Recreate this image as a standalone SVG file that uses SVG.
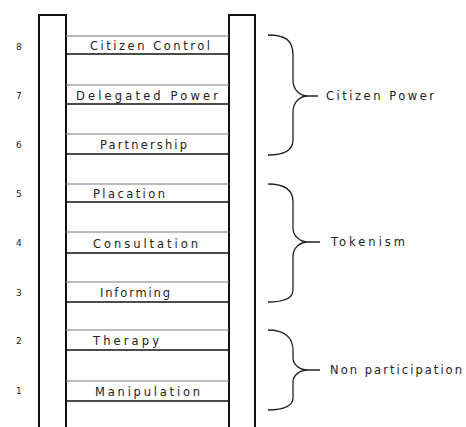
<svg xmlns="http://www.w3.org/2000/svg" width="466" height="427" viewBox="0 0 466 427">
<style>
.rail{fill:#fff;stroke:#111;stroke-width:2}
.rt{stroke:#777;stroke-width:1}
.rb{stroke:#111;stroke-width:1.6}
.lbl{font-family:"DejaVu Sans",sans-serif;font-size:11.5px;fill:#222}
.num{font-family:"DejaVu Sans",sans-serif;font-size:9px;fill:#222}
.br{fill:none;stroke:#222;stroke-width:1.3}
</style>
<rect width="466" height="427" fill="#fff"/>
<g id="rails">
<path class="rail" d="M39,430 L39,15 L66,15 L66,430"/>
<path class="rail" d="M229,430 L229,15 L255,15 L255,430"/>
</g>
<g id="rung8"><line class="rt" x1="66" y1="36" x2="229" y2="36"/><line class="rb" x1="66" y1="54" x2="229" y2="54"/><text class="num" x="16" y="50">8</text><text class="lbl" x="90" y="50" textLength="120" lengthAdjust="spacing">Citizen Control</text></g>
<g id="rung7"><line class="rt" x1="66" y1="85" x2="229" y2="85"/><line class="rb" x1="66" y1="104" x2="229" y2="104"/><text class="num" x="16" y="99">7</text><text class="lbl" x="76" y="100" textLength="142" lengthAdjust="spacing">Delegated Power</text></g>
<g id="rung6"><line class="rt" x1="66" y1="134" x2="229" y2="134"/><line class="rb" x1="66" y1="154" x2="229" y2="154"/><text class="num" x="16" y="148">6</text><text class="lbl" x="100" y="149" textLength="87" lengthAdjust="spacing">Partnership</text></g>
<g id="rung5"><line class="rt" x1="66" y1="184" x2="229" y2="184"/><line class="rb" x1="66" y1="202" x2="229" y2="202"/><text class="num" x="16" y="197">5</text><text class="lbl" x="93" y="198" textLength="72" lengthAdjust="spacing">Placation</text></g>
<g id="rung4"><line class="rt" x1="66" y1="232" x2="229" y2="232"/><line class="rb" x1="66" y1="253" x2="229" y2="253"/><text class="num" x="16" y="246">4</text><text class="lbl" x="93" y="248" textLength="105" lengthAdjust="spacing">Consultation</text></g>
<g id="rung3"><line class="rt" x1="66" y1="282" x2="229" y2="282"/><line class="rb" x1="66" y1="302" x2="229" y2="302"/><text class="num" x="16" y="296">3</text><text class="lbl" x="100" y="297" textLength="70" lengthAdjust="spacing">Informing</text></g>
<g id="rung2"><line class="rt" x1="66" y1="330" x2="229" y2="330"/><line class="rb" x1="66" y1="350" x2="229" y2="350"/><text class="num" x="16" y="344">2</text><text class="lbl" x="93" y="345" textLength="66" lengthAdjust="spacing">Therapy</text></g>
<g id="rung1"><line class="rt" x1="66" y1="381" x2="229" y2="381"/><line class="rb" x1="66" y1="401" x2="229" y2="401"/><text class="num" x="16" y="394">1</text><text class="lbl" x="95" y="396" textLength="105" lengthAdjust="spacing">Manipulation</text></g>
<g id="connectors">
<path class="br" d="M268,35 C285,35 293,40 293,55 L293,80 C293,90 300,96 308,96 C300,96 293,102 293,112 L293,140 C293,150 285,155 268,155 M308,96 L318,96"/>
<path class="br" d="M268,184 C285,184 293,190 293,202 L293,228 C293,236 300,242 308,242 C300,242 293,248 293,256 L293,290 C293,298 285,302 268,302 M308,242 L320,242"/>
<path class="br" d="M268,330 C285,330 293,338 293,350 L293,358 C293,365 300,370 308,370 C300,370 293,375 293,382 L293,398 C293,405 285,410 268,410 M308,370 L320,370"/>
</g>
<g id="group-citizen-power"><text class="lbl" x="326" y="100" textLength="108" lengthAdjust="spacing">Citizen Power</text></g>
<g id="group-tokenism"><text class="lbl" x="331" y="246" textLength="74" lengthAdjust="spacing">Tokenism</text></g>
<g id="group-nonparticipation"><text class="lbl" x="330" y="374" textLength="132" lengthAdjust="spacing">Non participation</text></g>
</svg>
